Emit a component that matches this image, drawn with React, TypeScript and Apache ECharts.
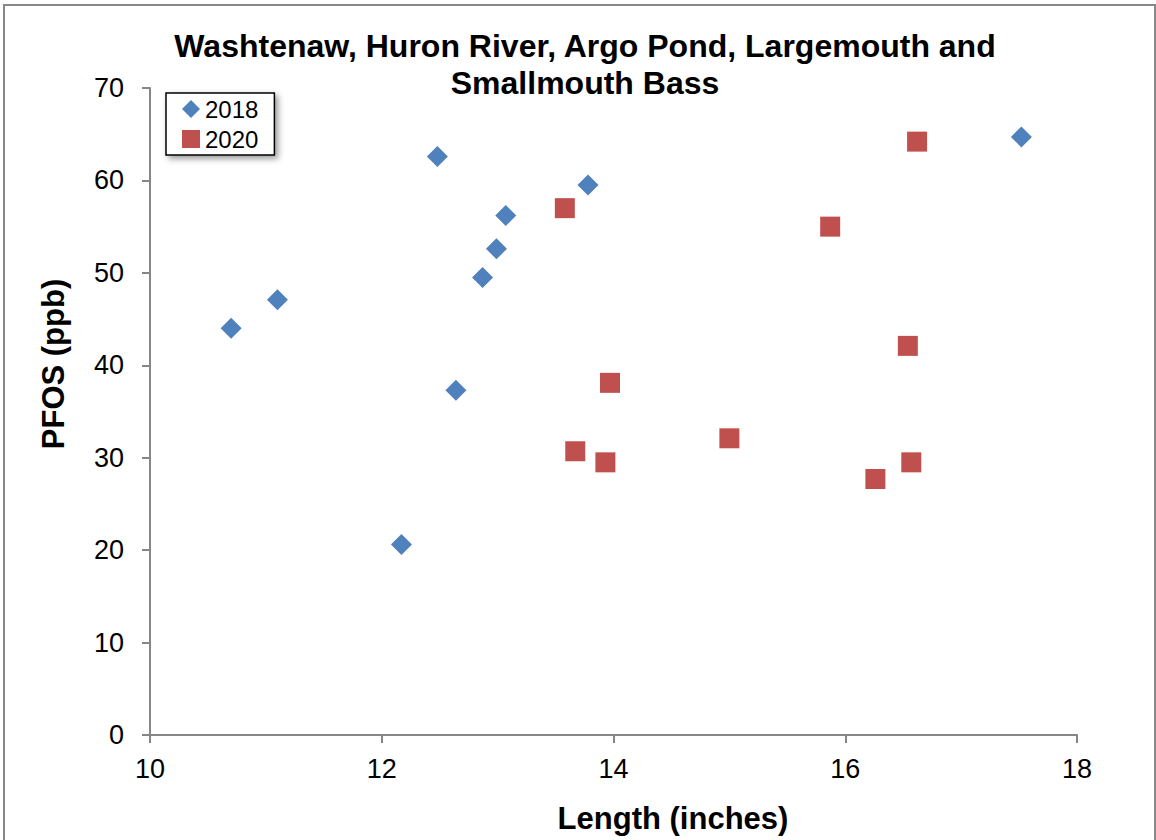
import React, { useEffect, useRef } from "react";
import * as echarts from "echarts";

const titleText = "Washtenaw, Huron River, Argo Pond, Largemouth and\nSmallmouth Bass";
const xName = "Length (inches)";
const yName = "PFOS (ppb)";

const len2018 = [10.7, 11.1, 12.17, 12.48, 12.64, 12.87, 12.99, 13.07, 13.78, 17.52];
const pfos2018 = [44.0, 47.1, 20.6, 62.6, 37.3, 49.5, 52.6, 56.2, 59.5, 64.7];

const len2020 = [13.58, 13.67, 13.93, 13.97, 15.0, 15.87, 16.26, 16.54, 16.57, 16.62];
const pfos2020 = [57.0, 30.7, 29.5, 38.1, 32.1, 55.0, 27.7, 42.1, 29.5, 64.2];

const FONT = "'Liberation Sans', Arial, sans-serif";

export default function App() {
  const ref = useRef<HTMLDivElement>(null);
  useEffect(() => {
    if (!ref.current) return;
    const chart = echarts.init(ref.current, undefined, { renderer: "svg" });
    chart.setOption({
      animation: false,
      backgroundColor: "#ffffff",
      textStyle: { fontFamily: FONT },
      title: {
        text: titleText,
        left: 580,
        textAlign: "center",
        top: 22,
        textStyle: { fontFamily: FONT, fontSize: 32, fontWeight: "bold", color: "#000", lineHeight: 37 },
      },
      legend: {
        orient: "vertical",
        left: 166,
        top: 93,
        padding: [4, 16, 4, 16],
        itemGap: 6,
        itemWidth: 18,
        itemHeight: 18,
        itemTextGap: 6,
        backgroundColor: "#fff",
        borderColor: "#000",
        borderWidth: 1.5,
        shadowColor: "rgba(0,0,0,0.4)",
        shadowBlur: 6,
        shadowOffsetX: 3,
        shadowOffsetY: 3,
        textStyle: { fontFamily: FONT, fontSize: 24, color: "#000" },
        data: [
          { name: "2018", icon: "diamond" },
          { name: "2020", icon: "rect" },
        ],
      },
      grid: { left: 150, right: 79, top: 88, bottom: 105 },
      xAxis: {
        type: "value",
        min: 10,
        max: 18,
        interval: 2,
        axisLine: { lineStyle: { color: "#868686", width: 2 } },
        axisTick: { show: true, length: 8, lineStyle: { color: "#868686", width: 2 } },
        axisLabel: { fontFamily: FONT, fontSize: 27, color: "#000", margin: 20 },
        splitLine: { show: false },
      },
      yAxis: {
        type: "value",
        min: 0,
        max: 70,
        interval: 10,
        axisLine: { show: true, lineStyle: { color: "#868686", width: 2 } },
        axisTick: { show: true, length: 8, lineStyle: { color: "#868686", width: 2 } },
        axisLabel: { fontFamily: FONT, fontSize: 27, color: "#000", margin: 26 },
        splitLine: { show: false },
      },
      graphic: [
        {
          type: "rect",
          shape: { x: 4, y: 5, width: 1151, height: 845 },
          style: { fill: "none", stroke: "#888", lineWidth: 2 },
          silent: true,
        },
        {
          type: "text",
          x: 673,
          y: 818,
          style: {
            text: xName,
            font: `bold 31px ${FONT}`,
            fill: "#000",
            align: "center",
            verticalAlign: "middle",
          },
          silent: true,
        },
        {
          type: "text",
          x: 53,
          y: 364,
          rotation: Math.PI / 2,
          style: {
            text: yName,
            font: `bold 31px ${FONT}`,
            fill: "#000",
            align: "center",
            verticalAlign: "middle",
          },
          silent: true,
        },
      ],
      series: [
        {
          name: "2018",
          type: "scatter",
          symbol: "diamond",
          symbolSize: 21,
          itemStyle: { color: "#4F81BD", opacity: 1 },
          data: len2018.map((x, i) => [x, pfos2018[i]]),
        },
        {
          name: "2020",
          type: "scatter",
          symbol: "rect",
          symbolSize: 20,
          itemStyle: { color: "#C0504D", opacity: 1 },
          data: len2020.map((x, i) => [x, pfos2020[i]]),
        },
      ],
    });
    return () => chart.dispose();
  }, []);
  return <div ref={ref} style={{ position: "fixed", left: 0, top: 0, width: 1156, height: 840 }} />;
}
